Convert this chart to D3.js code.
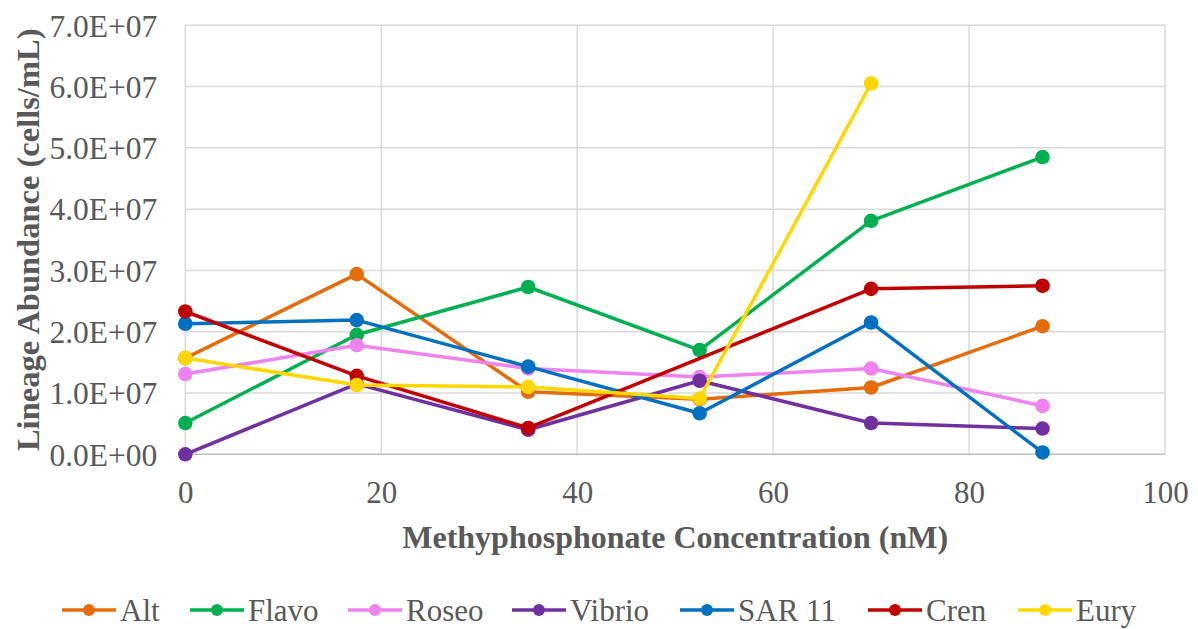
<!DOCTYPE html>
<html>
<head>
<meta charset="utf-8">
<script src="https://cdn.jsdelivr.net/npm/d3@7"></script>
<style>
  html, body { margin: 0; padding: 0; background: #fff; }
  svg { display: block; }
  text { font-family: "Liberation Serif", "Times New Roman", serif; fill: #595959; }
</style>
</head>
<body>
<svg id="chart" width="1198" height="629"></svg>
<script>
const concentrations = [0, 17.5, 35, 52.5, 70, 87.5];
const seriesNames = ["Alt", "Flavo", "Roseo", "Vibrio", "SAR 11", "Cren", "Eury"];
const seriesColors = ["#E46C0A", "#00B050", "#EE82EE", "#7030A0", "#0070C0", "#C00000", "#FFD700"];
const alt    = [1.57e7, 2.94e7, 1.02e7, 0.90e7, 1.09e7, 2.09e7];
const flavo  = [0.51e7, 1.95e7, 2.73e7, 1.70e7, 3.81e7, 4.85e7];
const roseo  = [1.31e7, 1.78e7, 1.40e7, 1.26e7, 1.40e7, 0.79e7];
const vibrio = [0.00e7, 1.15e7, 0.40e7, 1.20e7, 0.51e7, 0.42e7];
const sar11  = [2.13e7, 2.19e7, 1.43e7, 0.67e7, 2.15e7, 0.03e7];
const cren   = [2.33e7, 1.28e7, 0.43e7, null,   2.70e7, 2.75e7];
const eury   = [1.57e7, 1.13e7, 1.10e7, 0.91e7, 6.05e7, null];
const seriesValues = [alt, flavo, roseo, vibrio, sar11, cren, eury];
const xTicks = [0, 20, 40, 60, 80, 100];
const yTicks = [0, 1e7, 2e7, 3e7, 4e7, 5e7, 6e7, 7e7];
const xTitle = "Methyphosphonate Concentration (nM)";
const yTitle = "Lineage Abundance (cells/mL)";

const svg = d3.select("#chart");
const L = 185.3, R = 1165, T = 25.3, B = 454.3;
const x = d3.scaleLinear().domain([0, 100]).range([L, R]);
const y = d3.scaleLinear().domain([0, 7e7]).range([B, T]);

const fmt = v => v === 0 ? "0.0E+00" : (v / 1e7).toFixed(1) + "E+07";

// gridlines
const grid = svg.append("g");
grid.selectAll("line.h").data(yTicks.filter(d => d > 0)).join("line")
  .attr("x1", L).attr("x2", R).attr("y1", d => y(d)).attr("y2", d => y(d))
  .attr("stroke", "#D9D9D9").attr("stroke-width", 1.5);
grid.selectAll("line.v").data(xTicks).join("line")
  .attr("y1", T).attr("y2", B).attr("x1", d => x(d)).attr("x2", d => x(d))
  .attr("stroke", "#D9D9D9").attr("stroke-width", 1.5);
// bottom axis line
svg.append("line").attr("x1", L).attr("x2", R).attr("y1", B).attr("y2", B)
  .attr("stroke", "#BFBFBF").attr("stroke-width", 1.5);

// axes via d3
const xAxis = d3.axisBottom(x).tickValues(xTicks).tickSize(0).tickPadding(0).tickFormat(d3.format("d"));
const gx = svg.append("g").attr("transform", `translate(0,${B})`).call(xAxis);
gx.select(".domain").remove();
gx.selectAll("text").attr("font-size", 31).attr("dy", null).attr("y", 49)
  .style("font-family", '"Liberation Serif", "Times New Roman", serif').attr("fill", "#595959");

const yAxis = d3.axisLeft(y).tickValues(yTicks).tickSize(0).tickPadding(28).tickFormat(fmt);
const gy = svg.append("g").attr("transform", `translate(${L},0)`).call(yAxis);
gy.select(".domain").remove();
gy.selectAll("text").attr("font-size", 31.5).attr("dy", "0.34em")
  .style("font-family", '"Liberation Serif", "Times New Roman", serif').attr("fill", "#595959");

// titles
svg.append("text").attr("x", (L + R) / 2).attr("y", 548).attr("text-anchor", "middle")
  .attr("font-size", 32).attr("font-weight", "bold").text(xTitle);
svg.append("text").attr("transform", `translate(39,${(T + B) / 2}) rotate(-90)`)
  .attr("text-anchor", "middle").attr("font-size", 32.5).attr("font-weight", "bold").text(yTitle);

// series
const line = d3.line().x(d => x(d.x)).y(d => y(d.y));
seriesNames.forEach((name, i) => {
  const pts = concentrations.map((c, j) => ({ x: c, y: seriesValues[i][j] })).filter(d => d.y !== null);
  const g = svg.append("g");
  g.append("path").datum(pts).attr("d", line).attr("fill", "none")
    .attr("stroke", seriesColors[i]).attr("stroke-width", 3.5).attr("stroke-linejoin", "round");
  g.selectAll("circle").data(pts).join("circle")
    .attr("cx", d => x(d.x)).attr("cy", d => y(d.y)).attr("r", 7.3)
    .attr("fill", seriesColors[i]);
});

// legend
const legendX = [62, 190, 348, 512, 680, 868, 1018];
const ly = 610;
const lg = svg.append("g");
seriesNames.forEach((name, i) => {
  const gx0 = legendX[i];
  lg.append("line").attr("x1", gx0).attr("x2", gx0 + 54).attr("y1", ly).attr("y2", ly)
    .attr("stroke", seriesColors[i]).attr("stroke-width", 3.5);
  lg.append("circle").attr("cx", gx0 + 27).attr("cy", ly).attr("r", 6).attr("fill", seriesColors[i]);
  lg.append("text").attr("x", gx0 + 58).attr("y", ly + 11).attr("font-size", 31).text(name);
});
</script>
</body>
</html>
